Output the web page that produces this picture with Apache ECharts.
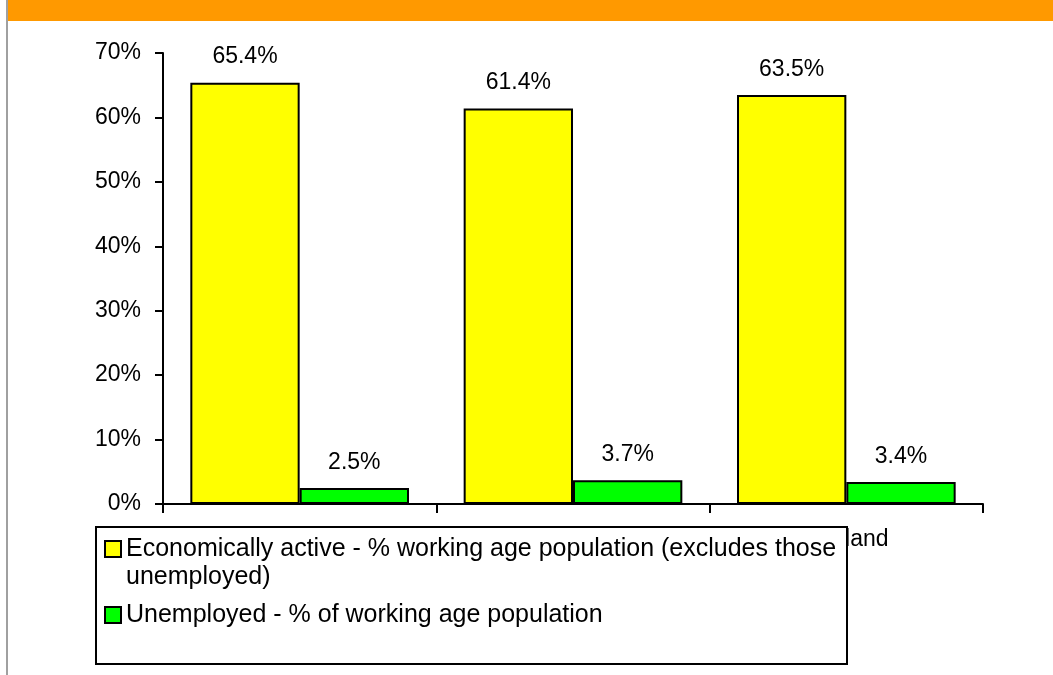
<!DOCTYPE html>
<html><head><meta charset="utf-8">
<script src="https://cdn.jsdelivr.net/npm/echarts@6/dist/echarts.min.js"></script>
<style>html,body{margin:0;padding:0;background:#fff}#c{width:1053px;height:675px}</style>
</head><body><div id="c"></div>
<script>
const categories = ['Local area', 'Region', 'England'];
const activeValues = [65.4, 61.4, 63.5];
const unemployedValues = [2.5, 3.7, 3.4];
const seriesNames = [
  'Economically active - % working age population (excludes those unemployed)',
  'Unemployed - % of working age population'
];
const yMin = 0, yMax = 70, yInterval = 10;

const FONT = 'Arial, "Liberation Sans", sans-serif';
const chart = echarts.init(document.getElementById('c'), null, {renderer: 'canvas'});
const labelCfg = {
  show: true, position: 'top', distance: 14, color: '#000', fontSize: 23, fontFamily: FONT,
  formatter: p => p.value.toFixed(1) + '%'
};
chart.setOption({
  animation: false,
  backgroundColor: '#fff',
  grid: {left: 163, right: 70, top: 53, bottom: 171, containLabel: false},
  xAxis: {
    type: 'category', data: categories,
    axisLine: {lineStyle: {color: '#000', width: 2}},
    axisTick: {show: true, length: 9, lineStyle: {color: '#000', width: 2}},
    axisLabel: {color: '#000', fontSize: 23, fontFamily: FONT, margin: 24}
  },
  yAxis: {
    type: 'value', min: yMin, max: yMax, interval: yInterval,
    axisLine: {show: true, lineStyle: {color: '#000', width: 2}},
    axisTick: {show: true, length: 8, lineStyle: {color: '#000', width: 2}},
    splitLine: {show: false},
    axisLabel: {color: '#000', fontSize: 23, fontFamily: FONT, margin: 22, formatter: '{value}%'}
  },
  legend: {
    orient: 'vertical', left: 104, top: 507, padding: 0, itemGap: 10,
    itemWidth: 16, itemHeight: 16, icon: 'rect', selectedMode: false, z: 110,
    textStyle: {color: '#000', fontSize: 25, fontFamily: FONT, lineHeight: 28},
    formatter: name => name.indexOf(' unemployed)') >= 0
      ? '\n' + name.replace(' unemployed)', '\nunemployed)')
      : name,
    data: [seriesNames[0], seriesNames[1]]
  },
  graphic: [
    {type: 'rect', silent: true, shape: {x: 8, y: 0, width: 1045, height: 21}, style: {fill: '#FF9900'}},
    {type: 'rect', silent: true, shape: {x: 6, y: 0, width: 2, height: 675}, style: {fill: '#A0A0A0'}},
    {type: 'rect', silent: true, z: 100, shape: {x: 96, y: 527, width: 751, height: 137},
     style: {fill: '#fff', stroke: '#000', lineWidth: 2}}
  ],
  series: [
    {type: 'bar', name: seriesNames[0], data: activeValues, barGap: '0%', barCategoryGap: '20%',
     itemStyle: {color: '#FFFF00', borderColor: '#000', borderWidth: 2}, label: labelCfg},
    {type: 'bar', name: seriesNames[1], data: unemployedValues, barGap: '0%', barCategoryGap: '20%',
     itemStyle: {color: '#00FF00', borderColor: '#000', borderWidth: 2}, label: labelCfg}
  ]
});
</script></body></html>
